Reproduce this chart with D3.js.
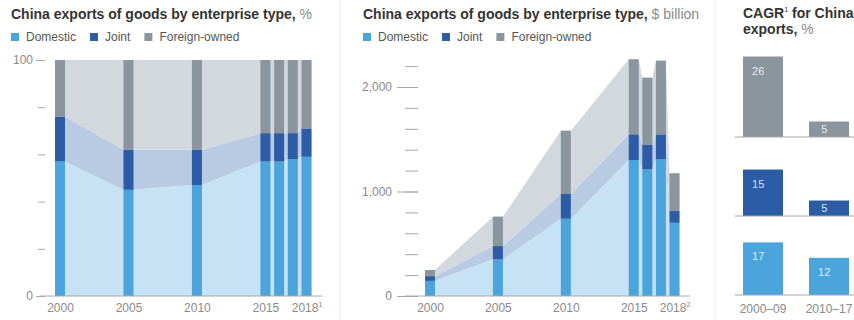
<!DOCTYPE html>
<html>
<head>
<meta charset="utf-8">
<script src="https://cdn.jsdelivr.net/npm/d3@7"></script>
<style>
  body { margin: 0; background: #fff; }
  svg { display: block; font-family: "Liberation Sans", Arial, sans-serif; }
</style>
</head>
<body>
<svg id="chart" width="854" height="320"></svg>
<script>
// ---- data ----
const years = [2000, 2005, 2010, 2015, 2016, 2017, 2018];
const labeledYears = [2000, 2005, 2010, 2015, 2018];

// share of exports, %
const shareDomestic = [57, 45, 47, 57, 57, 58, 59];
const shareJoint    = [19, 17, 15, 12, 12, 11, 12];
const shareForeign  = [24, 38, 38, 31, 31, 31, 29];

// exports, $ billion
const valueDomestic = [145, 351, 740, 1301, 1212, 1308, 701];
const valueJoint    = [45, 127, 236, 246, 233, 239, 112];
const valueForeign  = [59, 281, 606, 718, 644, 705, 361];

// compound annual growth rate, %
const cagrPeriods  = ["2000–09", "2010–17"];
const cagrForeign  = [26, 5];
const cagrJoint    = [15, 5];
const cagrDomestic = [17, 12];

const pctTicks = [0, 20, 40, 60, 80, 100];
const pctTickLabels = [0, 100];
const valueTicks = [0, 200, 400, 600, 800, 1000, 1200, 1400, 1600, 1800, 2000, 2200];
const valueTickLabels = [0, 1000, 2000];

const seriesNames = ["Domestic", "Joint", "Foreign-owned"];

// ---- styling ----
const keys = ["domestic", "joint", "foreign"];
const barColor  = { domestic: "#4ba4dc", joint: "#2c5ca6", foreign: "#8b959e" };
const areaColor = { domestic: "#c6e2f4", joint: "#b9cbe3", foreign: "#d3d8de" };
const textDark = "#333";
const textGrey = "#8a8a8a";
const tickGrey = "#a8a8a8";
const barWidth = 10;

const svg = d3.select("#chart");

// panel dividers
svg.selectAll("line.divider").data([340, 715]).join("line")
  .attr("class", "divider")
  .attr("x1", d => d).attr("x2", d => d)
  .attr("y1", 0).attr("y2", 320)
  .attr("stroke", "#e9e9e9").attr("stroke-width", 1);

function title(x, y, main, unit) {
  const t = svg.append("text").attr("x", x).attr("y", y)
    .attr("font-size", 14).attr("font-weight", "bold").attr("fill", textDark);
  t.append("tspan").text(main);
  t.append("tspan").attr("font-weight", "normal").attr("fill", textGrey).text(unit);
}

function legend(x, y) {
  const g = svg.append("g").attr("transform", `translate(${x},${y})`);
  let cx = 0;
  seriesNames.forEach((name, i) => {
    g.append("rect").attr("x", cx).attr("y", -8).attr("width", 8).attr("height", 8)
      .attr("fill", barColor[keys[i]]);
    const t = g.append("text").attr("x", cx + 15).attr("y", 0)
      .attr("font-size", 12).attr("fill", "#555").text(name);
    cx += 15 + t.node().getComputedTextLength() + 14;
  });
}

function superscriptLast(axisG, sup) {
  axisG.selectAll(".tick text")
    .filter(d => d === 2018)
    .append("tspan")
    .attr("font-size", 7).attr("dy", -5).text(sup);
}

function stackedPanel(opts) {
  const rows = years.map((yr, i) => ({
    year: yr,
    domestic: opts.domestic[i],
    joint: opts.joint[i],
    foreign: opts.foreign[i]
  }));
  const stacked = d3.stack().keys(keys)(rows);
  const x = d3.scaleLinear().domain([2000, 2018]).range(opts.xRange);
  const y = d3.scaleLinear().domain(opts.yDomain).range(opts.yRange);
  const g = svg.append("g");

  // bands join the edges of neighbouring bars with straight segments
  const area = d3.area()
    .x(p => p.x)
    .y0(p => y(p.d[0]))
    .y1(p => y(p.d[1]));
  const edges = s => s.flatMap(d => [
    { x: x(d.data.year) - barWidth / 2, d },
    { x: x(d.data.year) + barWidth / 2, d }
  ]);

  g.selectAll("path.band").data(stacked).join("path")
    .attr("class", "band")
    .attr("d", s => area(edges(s)))
    .attr("fill", s => areaColor[s.key]);

  g.selectAll("g.series").data(stacked).join("g")
    .attr("class", "series")
    .attr("fill", s => barColor[s.key])
    .selectAll("rect").data(s => s).join("rect")
    .attr("x", d => x(d.data.year) - barWidth / 2)
    .attr("width", barWidth)
    .attr("y", d => y(d[1]))
    .attr("height", d => y(d[0]) - y(d[1]));

  // baseline
  g.append("line")
    .attr("x1", opts.baseline[0]).attr("x2", opts.baseline[1])
    .attr("y1", y(0)).attr("y2", y(0))
    .attr("stroke", tickGrey).attr("stroke-width", 1);

  // x axis labels
  const xa = g.append("g").attr("transform", `translate(0,${y(0)})`)
    .call(d3.axisBottom(x).tickValues(labeledYears).tickSize(0).tickPadding(7)
      .tickFormat(d3.format("d")));
  xa.select(".domain").remove();
  xa.selectAll(".tick text").attr("font-size", 12).attr("fill", textGrey)
    .attr("font-family", "Liberation Sans, Arial, sans-serif");
  superscriptLast(xa, opts.sup);

  // y axis: minor ticks
  const ya = g.append("g").attr("transform", `translate(${opts.axisX},0)`)
    .call(d3.axisLeft(y).tickValues(opts.ticks).tickSize(opts.minorTick).tickFormat(""));
  ya.select(".domain").remove();
  ya.selectAll(".tick line").attr("stroke", tickGrey);

  // y axis: labelled ticks
  const yl = g.append("g").attr("transform", `translate(${opts.axisX},0)`)
    .call(d3.axisLeft(y).tickValues(opts.labels).tickSize(opts.majorTick)
      .tickPadding(opts.pad).tickFormat(d3.format(",")));
  yl.select(".domain").remove();
  yl.selectAll(".tick line").attr("stroke", tickGrey);
  yl.selectAll(".tick text").attr("font-size", 12).attr("fill", textGrey)
    .attr("font-family", "Liberation Sans, Arial, sans-serif");
}

// ---- panel 1: share of exports ----
title(11, 19, "China exports of goods by enterprise type, ", "%");
legend(11, 41);
stackedPanel({
  domestic: shareDomestic, joint: shareJoint, foreign: shareForeign,
  xRange: [60, 306.5], yDomain: [0, 100], yRange: [296, 60],
  baseline: [40, 322], axisX: 45, ticks: pctTicks, labels: pctTickLabels,
  minorTick: 7, majorTick: 9, pad: 3, sup: "1"
});

// ---- panel 2: exports in $ billion ----
title(363, 19, "China exports of goods by enterprise type, ", "$ billion");
legend(363, 41);
stackedPanel({
  domestic: valueDomestic, joint: valueJoint, foreign: valueForeign,
  xRange: [430, 674.5], yDomain: [0, 2200], yRange: [296, 296 - 2200 * 0.1045],
  baseline: [405, 690], axisX: 418, ticks: valueTicks, labels: valueTickLabels,
  minorTick: 13, majorTick: 21, pad: 5, sup: "2"
});

// ---- panel 3: CAGR ----
{
  const t = svg.append("text").attr("x", 743).attr("y", 18)
    .attr("font-size", 14).attr("font-weight", "bold").attr("fill", textDark);
  t.append("tspan").text("CAGR");
  t.append("tspan").attr("font-size", 7).attr("font-weight", "normal").attr("dy", -6).text("1");
  t.append("tspan").attr("dy", 6).text(" for China");
  const t2 = svg.append("text").attr("x", 743).attr("y", 34)
    .attr("font-size", 14).attr("font-weight", "bold").attr("fill", textDark);
  t2.append("tspan").text("exports, ");
  t2.append("tspan").attr("font-weight", "normal").attr("fill", textGrey).text("%");

  const groups = [
    { key: "foreign",  values: cagrForeign,  base: 137 },
    { key: "joint",    values: cagrJoint,    base: 216 },
    { key: "domestic", values: cagrDomestic, base: 295 }
  ];
  const x = d3.scaleBand().domain(cagrPeriods).range([735, 857])
    .paddingInner(0.394).paddingOuter(0.121);
  const h = d3.scaleLinear().domain([0, 26]).range([0, 80.5]);

  groups.forEach(grp => {
    const g = svg.append("g");
    const items = grp.values.map((v, i) => ({ period: cagrPeriods[i], v }));
    g.selectAll("rect").data(items).join("rect")
      .attr("x", d => x(d.period))
      .attr("width", x.bandwidth())
      .attr("y", d => grp.base - h(d.v))
      .attr("height", d => h(d.v))
      .attr("fill", barColor[grp.key]);
    g.selectAll("text").data(items).join("text")
      .attr("x", d => x(d.period) + x.bandwidth() * 0.38)
      .attr("y", d => grp.base - h(d.v) + Math.min(18, h(d.v) / 2 + 4))
      .attr("text-anchor", "middle")
      .attr("font-size", 11)
      .attr("fill", "#fff").attr("fill-opacity", 0.85)
      .text(d => d.v);
    g.append("line")
      .attr("x1", 735).attr("x2", 854)
      .attr("y1", grp.base).attr("y2", grp.base)
      .attr("stroke", tickGrey).attr("stroke-width", 1);
  });

  svg.selectAll("text.period").data(cagrPeriods).join("text")
    .attr("class", "period")
    .attr("x", d => x(d) + x.bandwidth() / 2)
    .attr("y", 313)
    .attr("text-anchor", "middle")
    .attr("font-size", 12).attr("fill", textGrey)
    .text(d => d);
}
</script>
</body>
</html>
